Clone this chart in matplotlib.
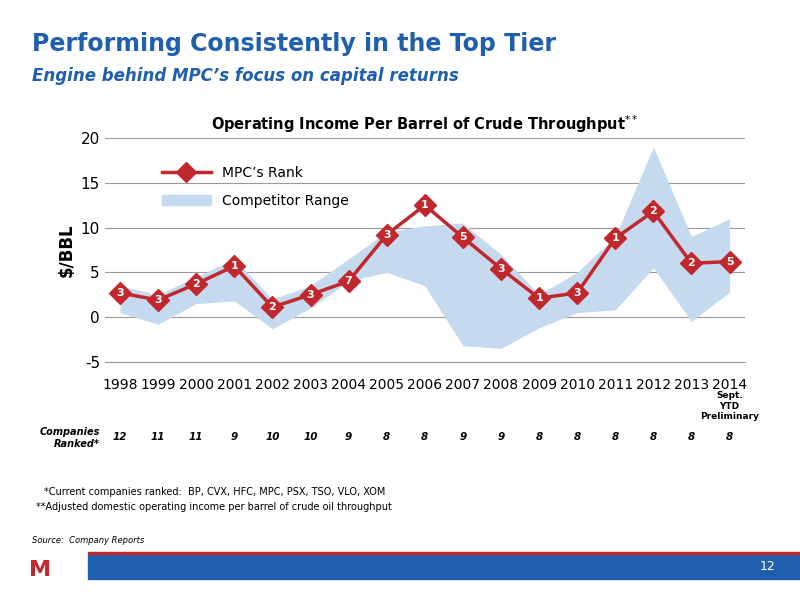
import matplotlib
matplotlib.use("Agg")
import matplotlib.pyplot as plt
from matplotlib.lines import Line2D
from matplotlib.patches import Patch, Rectangle
plt.rcParams["axes.unicode_minus"] = False

years = ["1998","1999","2000","2001","2002","2003","2004","2005","2006","2007","2008","2009","2010","2011","2012","2013","2014"]
mpc = [2.7,1.9,3.7,5.7,1.1,2.5,4.0,9.2,12.5,8.9,5.4,2.1,2.7,8.8,11.8,6.0,6.2]
ranks = [3,3,2,1,2,3,7,3,1,5,3,1,3,1,2,2,5]
upper = [3.5,2.5,4.5,6.5,2.0,3.5,6.5,9.5,10.2,10.5,7.0,2.5,5.0,9.0,19.0,9.0,11.0]
lower = [0.5,-0.8,1.5,1.8,-1.3,1.0,4.0,5.0,3.5,-3.2,-3.5,-1.2,0.5,0.8,5.5,-0.5,2.8]
companies = [12,11,11,9,10,10,9,8,8,9,9,8,8,8,8,8,8]

blue = "#1F5FAD"; red = "#C0282D"; fillc = "#C5DAEE"
fig = plt.figure(figsize=(8,6), dpi=100)
fig.text(0.04, 0.915, "Performing Consistently in the Top Tier", color=blue, fontsize=17, fontweight="bold")
fig.text(0.04, 0.865, "Engine behind MPC\u2019s focus on capital returns", color=blue, fontsize=12, fontweight="bold", style="italic")

ax = fig.add_axes([0.131, 0.397, 0.8, 0.373])
x = list(range(len(years)))
ax.fill_between(x, lower, upper, color=fillc, lw=0)
ax.plot(x, mpc, color=red, lw=2.5, marker="D", ms=11, mfc=red, mec=red)
for xi, yi, r in zip(x, mpc, ranks):
    ax.text(xi, yi, str(r), color="white", ha="center", va="center", fontsize=8, fontweight="bold")
ax.set_ylim(-5, 20)
ax.set_xlim(-0.4, 16.4)
ax.set_yticks([-5,0,5,10,15,20])
ax.set_xticks(x)
ax.set_xticklabels(years, fontsize=10)
ax.tick_params(axis="y", labelsize=11, length=0)
ax.tick_params(axis="x", length=0, pad=12)
ax.grid(axis="y", color="#999999", lw=0.8)
ax.set_axisbelow(True)
for s in ["top","right","left"]:
    ax.spines[s].set_visible(False)
ax.spines["bottom"].set_color("#999999")
ax.set_ylabel("$/BBL", fontsize=12, fontweight="bold")
ax.set_title("Operating Income Per Barrel of Crude Throughput$^{**}$", fontsize=10.5, fontweight="bold", pad=6)
h = [Line2D([0],[0], color=red, lw=2.5, marker="D", ms=10), Patch(color=fillc)]
ax.legend(h, ["MPC\u2019s Rank", "Competitor Range"], loc="upper left", bbox_to_anchor=(0.07, 0.93), frameon=False, fontsize=10, handlelength=3.5, labelspacing=1.0)

ax.text(16, -8.3, "Sept.\nYTD\nPreliminary", ha="center", va="top", fontsize=6.5, fontweight="bold")
fig.text(0.125, 0.27, "Companies\nRanked*", ha="right", va="center", fontsize=7, fontweight="bold", style="italic")
for xi, c in zip(x, companies):
    ax.text(xi, -13.4, str(c), ha="center", va="center", fontsize=7.5, fontweight="bold", style="italic")
fig.text(0.055, 0.175, "*Current companies ranked:  BP, CVX, HFC, MPC, PSX, TSO, VLO, XOM", fontsize=7)
fig.text(0.045, 0.150, "**Adjusted domestic operating income per barrel of crude oil throughput", fontsize=7)
fig.text(0.04, 0.095, "Source:  Company Reports", fontsize=6, style="italic")
fig.patches.append(Rectangle((0.11, 0.035), 0.89, 0.04, transform=fig.transFigure, color=blue))
fig.patches.append(Rectangle((0.11, 0.077), 0.89, 0.003, transform=fig.transFigure, color=red))
fig.text(0.96, 0.055, "12", color="white", ha="center", va="center", fontsize=9)
fig.text(0.05, 0.04, "M", color=red, fontsize=16, fontweight="bold", ha="center")
fig.savefig("out.png")
